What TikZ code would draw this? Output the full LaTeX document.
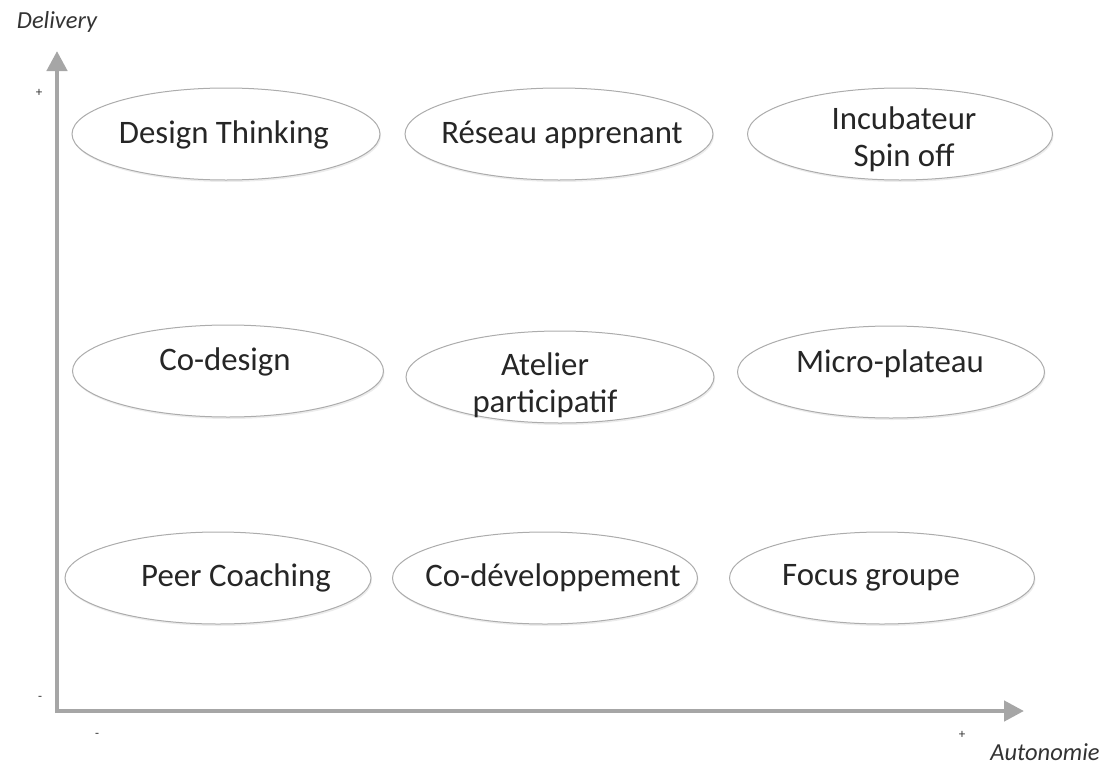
\documentclass[tikz,border=0pt]{standalone}
\usepackage{fontspec}
\setmainfont{Carlito}
\usetikzlibrary{arrows.meta,shapes.geometric,shadows}
\begin{document}
\begin{tikzpicture}[x=1pt,y=-1pt,
  oval/.style={ellipse,draw=gray!65,line width=1pt,fill=white,inner sep=0pt,
     minimum width=#1,minimum height=92pt,
     drop shadow={shadow xshift=1pt,shadow yshift=-2pt,opacity=0.15}},
  oval/.default=307pt,
  txt/.style={font=\fontsize{32.8}{37}\selectfont,text=black!85,align=center,inner sep=0pt},
  axis/.style={draw=gray!70,line width=4.5pt,-{Triangle[length=20pt,width=20pt]}},
  small/.style={font=\fontsize{13}{14}\selectfont,text=black!80},
  axlabel/.style={font=\itshape\fontsize{24.5}{26}\selectfont,text=black!80}]
\useasboundingbox (0,0) rectangle (1111,766);
\coordinate (ytip) at (57,51);
\coordinate (xtip) at (1024,711);
\draw[axis] (57,713) -- (ytip);
\draw[axis] (55,711) -- (xtip);
\node[axlabel] (delivery) at (57,22) {Delivery};
\node[axlabel] (autonomie) at (1045,752) {Autonomie};
\node[small] (yplus) at (39,93) {+};
\node[small] (yminus) at (40,698) {-};
\node[small] (xminus) at (97,735) {-};
\node[small] (xplus) at (962,735) {+};
% row 1
\node[oval=308pt] (dt) at (226,134) {};
\node[oval=308pt] (ra) at (559,134) {};
\node[oval=305pt] (inc) at (900,134) {};
\node[txt] (dtT) at (224,135) {Design Thinking};
\node[txt] (raT) at (562,135) {R\'eseau apprenant};
\node[txt] (incT) at (904,139) {Incubateur\\Spin off};
% row 2
\node[oval=311pt] (cod) at (228,371) {};
\node[oval=308pt] (at) at (560,377) {};
\node[oval=307pt] (mp) at (891,372) {};
\node[txt] (codT) at (225,362) {Co-design};
\node[txt] (atT) at (545,385) {Atelier\\participatif};
\node[txt] (mpT) at (890,364) {Micro-plateau};
% row 3
\node[oval=306pt] (pc) at (218,578) {};
\node[oval=305pt] (cdv) at (545,578) {};
\node[oval=305pt] (fg) at (882,578) {};
\node[txt] (pcT) at (236,578) {Peer Coaching};
\node[txt] (cdvT) at (553,578) {Co-d\'eveloppement};
\node[txt] (fgT) at (871,578) {Focus groupe};
\end{tikzpicture}
\end{document}
